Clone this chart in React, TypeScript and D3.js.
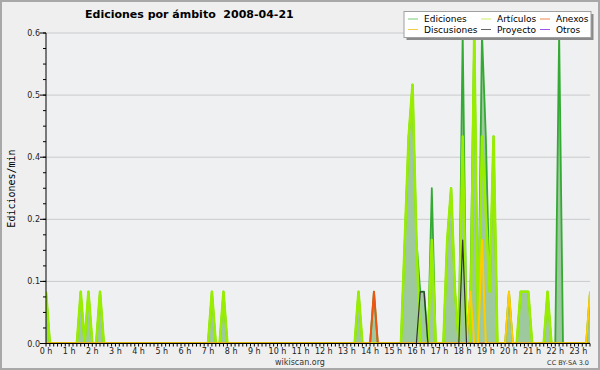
import React from "react";
import * as d3 from "d3";

// 10-minute bins from 00:00 to 23:30 (142 points), rows of 12 bins (2 hours)
const ediciones = [
  0.1, 0, 0, 0, 0, 0, 0, 0, 0, 0.1, 0, 0.1,
  0, 0, 0.1, 0, 0, 0, 0, 0, 0, 0, 0, 0,
  0, 0, 0, 0, 0, 0, 0, 0, 0, 0, 0, 0,
  0, 0, 0, 0, 0, 0, 0, 0.1, 0, 0, 0.1, 0,
  0, 0, 0, 0, 0, 0, 0, 0, 0, 0, 0, 0,
  0, 0, 0, 0, 0, 0, 0, 0, 0, 0, 0, 0,
  0, 0, 0, 0, 0, 0, 0, 0, 0, 0.1, 0, 0,
  0, 0.1, 0, 0, 0, 0, 0, 0, 0, 0.2, 0.4, 0.5,
  0.2, 0.1, 0.1, 0, 0.3, 0, 0, 0, 0.2, 0.3, 0.1, 0,
  0.6, 0, 0.1, 0.6, 0, 0.6, 0.4, 0.1, 0.4, 0, 0, 0,
  0.1, 0, 0, 0.1, 0.1, 0.1, 0, 0, 0, 0, 0.1, 0,
  0, 0.6, 0, 0, 0, 0, 0, 0, 0, 0.1,
];
const articulos = [
  0.1, 0, 0, 0, 0, 0, 0, 0, 0, 0.1, 0, 0.1,
  0, 0, 0.1, 0, 0, 0, 0, 0, 0, 0, 0, 0,
  0, 0, 0, 0, 0, 0, 0, 0, 0, 0, 0, 0,
  0, 0, 0, 0, 0, 0, 0, 0.1, 0, 0, 0.1, 0,
  0, 0, 0, 0, 0, 0, 0, 0, 0, 0, 0, 0,
  0, 0, 0, 0, 0, 0, 0, 0, 0, 0, 0, 0,
  0, 0, 0, 0, 0, 0, 0, 0, 0, 0.1, 0, 0,
  0, 0, 0, 0, 0, 0, 0, 0, 0, 0.2, 0.4, 0.5,
  0.2, 0, 0, 0, 0.2, 0, 0, 0, 0.2, 0.3, 0.1, 0,
  0.4, 0, 0, 0.6, 0, 0.4, 0.25, 0.1, 0.4, 0, 0, 0,
  0, 0, 0, 0.1, 0.1, 0.1, 0, 0, 0, 0, 0.1, 0,
  0, 0, 0, 0, 0, 0, 0, 0, 0, 0,
];
const anexos = [
  0, 0, 0, 0, 0, 0, 0, 0, 0, 0, 0, 0,
  0, 0, 0, 0, 0, 0, 0, 0, 0, 0, 0, 0,
  0, 0, 0, 0, 0, 0, 0, 0, 0, 0, 0, 0,
  0, 0, 0, 0, 0, 0, 0, 0, 0, 0, 0, 0,
  0, 0, 0, 0, 0, 0, 0, 0, 0, 0, 0, 0,
  0, 0, 0, 0, 0, 0, 0, 0, 0, 0, 0, 0,
  0, 0, 0, 0, 0, 0, 0, 0, 0, 0, 0, 0,
  0, 0.1, 0, 0, 0, 0, 0, 0, 0, 0, 0, 0,
  0, 0, 0, 0, 0, 0, 0, 0, 0, 0, 0, 0,
  0, 0, 0, 0, 0, 0, 0, 0, 0, 0, 0, 0,
  0, 0, 0, 0, 0, 0, 0, 0, 0, 0, 0, 0,
  0, 0, 0, 0, 0, 0, 0, 0, 0, 0,
];
const discusiones = [
  0, 0, 0, 0, 0, 0, 0, 0, 0, 0, 0, 0,
  0, 0, 0, 0, 0, 0, 0, 0, 0, 0, 0, 0,
  0, 0, 0, 0, 0, 0, 0, 0, 0, 0, 0, 0,
  0, 0, 0, 0, 0, 0, 0, 0, 0, 0, 0, 0,
  0, 0, 0, 0, 0, 0, 0, 0, 0, 0, 0, 0,
  0, 0, 0, 0, 0, 0, 0, 0, 0, 0, 0, 0,
  0, 0, 0, 0, 0, 0, 0, 0, 0, 0, 0, 0,
  0, 0, 0, 0, 0, 0, 0, 0, 0, 0, 0, 0,
  0, 0, 0, 0, 0, 0, 0, 0, 0, 0, 0, 0,
  0, 0, 0.1, 0, 0, 0.2, 0, 0, 0, 0, 0, 0,
  0.1, 0, 0, 0, 0, 0, 0, 0, 0, 0, 0, 0,
  0, 0, 0, 0, 0, 0, 0, 0, 0, 0.1,
];
const proyecto = [
  0, 0, 0, 0, 0, 0, 0, 0, 0, 0, 0, 0,
  0, 0, 0, 0, 0, 0, 0, 0, 0, 0, 0, 0,
  0, 0, 0, 0, 0, 0, 0, 0, 0, 0, 0, 0,
  0, 0, 0, 0, 0, 0, 0, 0, 0, 0, 0, 0,
  0, 0, 0, 0, 0, 0, 0, 0, 0, 0, 0, 0,
  0, 0, 0, 0, 0, 0, 0, 0, 0, 0, 0, 0,
  0, 0, 0, 0, 0, 0, 0, 0, 0, 0, 0, 0,
  0, 0, 0, 0, 0, 0, 0, 0, 0, 0, 0, 0,
  0, 0.1, 0.1, 0, 0, 0, 0, 0, 0, 0, 0, 0,
  0.2, 0, 0, 0, 0, 0, 0, 0, 0, 0, 0, 0,
  0, 0, 0, 0, 0, 0, 0, 0, 0, 0, 0, 0,
  0, 0, 0, 0, 0, 0, 0, 0, 0, 0,
];
const otros = [
  0, 0, 0, 0, 0, 0, 0, 0, 0, 0, 0, 0,
  0, 0, 0, 0, 0, 0, 0, 0, 0, 0, 0, 0,
  0, 0, 0, 0, 0, 0, 0, 0, 0, 0, 0, 0,
  0, 0, 0, 0, 0, 0, 0, 0, 0, 0, 0, 0,
  0, 0, 0, 0, 0, 0, 0, 0, 0, 0, 0, 0,
  0, 0, 0, 0, 0, 0, 0, 0, 0, 0, 0, 0,
  0, 0, 0, 0, 0, 0, 0, 0, 0, 0, 0, 0,
  0, 0, 0, 0, 0, 0, 0, 0, 0, 0, 0, 0,
  0, 0, 0, 0, 0, 0, 0, 0, 0, 0, 0, 0,
  0, 0, 0, 0, 0, 0, 0, 0, 0, 0, 0, 0,
  0, 0, 0, 0, 0, 0, 0, 0, 0, 0, 0, 0,
  0, 0, 0, 0, 0, 0, 0, 0, 0, 0,
];

const hourLabels = [
  "0 h", "1 h", "2 h", "3 h", "4 h", "5 h", "6 h", "7 h", "8 h", "9 h", "10 h", "11 h",
  "12 h", "13 h", "14 h", "15 h", "16 h", "17 h", "18 h", "19 h", "20 h", "21 h", "22 h", "23 h",
];
const yTickValues = [0, 0.12, 0.24, 0.36, 0.48, 0.6];
const yTickLabels = ["0.0", "0.1", "0.2", "0.4", "0.5", "0.6"];

const title = "Ediciones por ámbito  2008-04-21";
const yTitle = "Ediciones/min";

const series = [
  { name: "Ediciones", values: ediciones, color: "#33aa33", legend: "#77cc77", width: 1.8 },
  { name: "Artículos", values: articulos, color: "#99ee00", legend: "#ccee66", width: 2.6 },
  { name: "Anexos", values: anexos, color: "#ee5511", legend: "#ee8855", width: 2 },
  { name: "Discusiones", values: discusiones, color: "#ffcc00", legend: "#eecc44", width: 2 },
  { name: "Proyecto", values: proyecto, color: "#333333", legend: "#666666", width: 1.2 },
  { name: "Otros", values: otros, color: "#9933ff", legend: "#9955ee", width: 1.2 },
];
const legendOrder = ["Ediciones", "Artículos", "Anexos", "Discusiones", "Proyecto", "Otros"];

const W = 600;
const H = 370;
const PL = 46, PR = 590, PT = 33, PB = 343.5;

export default function App() {
  const n = ediciones.length;
  const x = d3.scaleLinear().domain([0, n - 1]).range([PL, PR]);
  const y = d3.scaleLinear().domain([0, 0.6]).range([PB, PT]);

  const area = d3.area<number>()
    .x((_, i) => x(i))
    .y0(y(0))
    .y1((d) => y(d));
  const line = d3.line<number>()
    .x((_, i) => x(i))
    .y((d) => y(d));

  const minorY = d3.range(0, 0.6001, 0.03);
  const idx = d3.range(n);

  const legendCols = [408, 481, 540];
  const legendRows = [19, 29.5];

  return (
    <svg width={W} height={H} style={{ position: "absolute", left: 0, top: 0 }}
      fontFamily="DejaVu Sans, sans-serif">
      <defs>
        <clipPath id="plotclip">
          <rect x={PL} y={PT} width={PR - PL} height={PB - PT} />
        </clipPath>
      </defs>
      <rect x={0} y={0} width={W} height={H} fill="#efefef" />
      <rect x={1} y={1} width={W - 2} height={H - 2} fill="none" stroke="#a8a8a8" strokeWidth={2} />
      <rect x={PL} y={PT} width={PR - PL} height={PB - PT} fill="#eef0f2" />
      {yTickValues.slice(1).map((v) => (
        <line key={v} x1={PL} x2={PR} y1={y(v)} y2={y(v)} stroke="#cacaca" strokeWidth={1} />
      ))}
      <g clipPath="url(#plotclip)">
        <path d={area(ediciones) || ""} fill="#9ec99e" />
        {series.map((s) => (
          <path key={s.name} d={line(s.values) || ""} fill="none" stroke={s.color}
            strokeWidth={s.width} strokeLinejoin="round" />
        ))}
      </g>
      {/* axes */}
      <line x1={PL} x2={PL} y1={PT} y2={PB} stroke="#000" />
      <line x1={PL} x2={PR} y1={PB} y2={PB} stroke="#000" />
      {minorY.map((v, i) => (
        <line key={"my" + i} x1={PL - 3} x2={PL} y1={y(v)} y2={y(v)} stroke="#000" />
      ))}
      {yTickValues.map((v, i) => (
        <g key={"yt" + i}>
          <line x1={PL - 6} x2={PL} y1={y(v)} y2={y(v)} stroke="#000" />
          <text x={40} y={y(v) + 3} fontSize={8} textAnchor="end" fill="#222">{yTickLabels[i]}</text>
        </g>
      ))}
      {idx.map((i) => (
        <line key={"xt" + i} x1={x(i)} x2={x(i)} y1={PB} y2={PB + 3} stroke="#000" />
      ))}
      {hourLabels.map((l, h) => (
        <text key={l} x={x(h * 6)} y={353.5} fontSize={8} textAnchor="middle" fill="#222"
          style={{ whiteSpace: "pre" }}>{l}</text>
      ))}
      <text transform={`translate(14.5,188.5) rotate(-90)`} fontSize={10} textAnchor="middle"
        fontFamily="DejaVu Sans Mono, monospace" fill="#000">{yTitle}</text>
      <text x={85} y={18} fontSize={11} fontWeight="bold" fill="#000"
        style={{ whiteSpace: "pre" }}>{title}</text>
      <text x={300} y={364.5} fontSize={8} textAnchor="middle" fill="#333">wikiscan.org</text>
      <text x={589} y={365} fontSize={6.5} textAnchor="end" fill="#333">CC BY-SA 3.0</text>
      {/* legend */}
      <rect x={406.5} y={14} width={187} height={26} fill="#8a8a8a" />
      <rect x={404} y={11.5} width={187} height={26} fill="#ffffff" stroke="#a0a0a0" strokeWidth={1} />
      {legendOrder.map((name, k) => {
        const s = series.find((d) => d.name === name)!;
        const cx = legendCols[k % 3];
        const cy = legendRows[Math.floor(k / 3)];
        return (
          <g key={"lg" + name}>
            <line x1={cx} x2={cx + 10} y1={cy} y2={cy} stroke={s.legend} strokeWidth={1} />
            <text x={cx + 16} y={cy + 3.3} fontSize={9} fill="#000">{name}</text>
          </g>
        );
      })}
    </svg>
  );
}
